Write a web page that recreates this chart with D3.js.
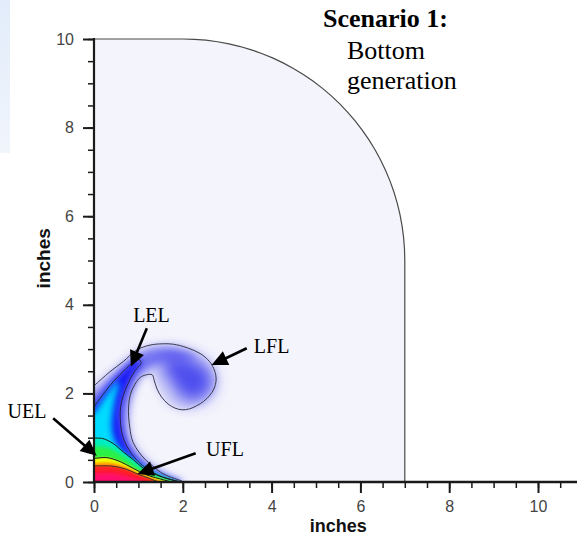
<!DOCTYPE html>
<html>
<head>
<meta charset="utf-8">
<script src="https://cdn.jsdelivr.net/npm/d3@7"></script>
<style>
  html, body { margin: 0; padding: 0; background: #fff; }
  svg { display: block; }
</style>
</head>
<body>
<svg id="chart" width="577" height="537"></svg>
<script>
// ---------- axis ticks (inches) ----------
const xMajorTicks = [0, 2, 4, 6, 8, 10];
const yMajorTicks = [0, 2, 4, 6, 8, 10];
const xMinorTicks = d3.range(0, 10.51, 0.5);
const yMinorTicks = d3.range(0, 10.01, 0.5);

// ---------- tank outline: flat top, rounded corner, side wall ----------
const tankTop = 10;
const tankWall = 7;
const cornerCenter = [2, 5];
const cornerRadius = 5;

// ---------- contour lines (inches), left wall -> floor ----------
const outerContour = [[0,2.17],[0.36,2.49],[0.66,2.72],[0.96,2.98],[1.26,3.09],[1.55,3.12],[1.79,3.11],
  [2.1,3.03],[2.39,2.9],[2.6,2.72],[2.72,2.5],[2.75,2.3],[2.7,2.1],[2.61,1.96],[2.47,1.82],[2.31,1.72],
  [2.15,1.65],[1.98,1.63],[1.82,1.67],[1.67,1.76],[1.52,1.92],[1.42,2.1],[1.36,2.28],[1.31,2.42],
  [1.18,2.42],[1.04,2.36],[0.92,2.2],[0.82,1.98],[0.78,1.72],[0.78,1.47],[0.81,1.2],[0.86,0.95],
  [0.98,0.72],[1.16,0.5],[1.35,0.34],[1.53,0.2],[1.75,0.1],[1.98,0.02],[2.0,0]];
const blueBandContour = [[0,1.70],[0.36,2.18],[0.66,2.5],[0.88,2.7],[1.02,2.76],[1.06,2.68],[0.93,2.52],
  [0.78,2.25],[0.67,1.98],[0.6,1.7],[0.59,1.45],[0.62,1.15],[0.71,0.87],[0.9,0.57],[1.16,0.32],
  [1.5,0.13],[1.85,0.02],[1.9,0]];
const greenContour = [[0,0.99],[0.2,0.98],[0.43,0.87],[0.66,0.68],[0.89,0.5],[1.11,0.31],[1.41,0.16],
  [1.71,0.06],[1.97,0]];
const yellowContour = [[0,0.53],[0.29,0.55],[0.59,0.46],[0.88,0.31],[1.19,0.16],[1.56,0.05],[1.75,0]];
const redContour = [[0,0.36],[0.4,0.36],[0.72,0.29],[0.98,0.18],[1.25,0.08],[1.45,0]];

// ---------- colour-flood regions (inches) ----------
const midBlueRegion = [[0,2.0],[0.4,2.4],[0.8,2.75],[1.2,2.97],[1.6,3.02],[2.0,2.95],[2.3,2.8],[2.0,2.72],
  [1.6,2.7],[1.3,2.6],[1.05,2.4],[0.9,2.1],[0.78,1.7],[0.74,1.3],[0.8,0.95],[0.95,0.68],[1.2,0.42],
  [1.55,0.2],[1.95,0]];
const headCore = [[1.6,2.85],[2.15,2.8],[2.55,2.58],[2.68,2.25],[2.55,1.95],[2.25,1.82],[1.95,1.92],
  [1.78,2.2],[1.55,2.55]];
const cyanRegion = [[0,1.55],[0.22,1.88],[0.4,2.12],[0.52,2.28],[0.55,2.15],[0.48,1.9],[0.42,1.55],
  [0.4,1.25],[0.45,0.98],[0.58,0.75],[0.8,0.52],[1.1,0.32],[1.45,0.14],[1.75,0.02],[1.8,0]];
const greenCore = [[0,0.8],[0.3,0.78],[0.55,0.66],[0.78,0.5],[1.0,0.34],[1.3,0.18],[1.6,0.06],[1.8,0]];
const orangeRegion = [[0,0.43],[0.35,0.44],[0.65,0.37],[0.9,0.25],[1.2,0.13],[1.5,0.03],[1.6,0]];
const magentaRegion = [[0,0.2],[0.45,0.2],[0.8,0.12],[1.05,0.04],[1.15,0]];

// ---------- annotations ----------
const annotLabels = ["LEL", "LFL", "UEL", "UFL"];
const annotText = [[1.295, 3.61], [4.0, 2.91], [-1.51, 1.44], [2.95, 0.59]];
const annotFrom = [[1.19, 3.47], [3.44, 3.02], [-0.92, 1.44], [2.29, 0.65]];
const annotTo = [[0.83, 2.6], [2.65, 2.64], [0.06, 0.59], [0.98, 0.18]];

const titleLines = ["Scenario 1:", "Bottom", "generation"];

// ---------- scales ----------
const svg = d3.select("#chart");
const W = 577, H = 537;
const x = d3.scaleLinear().domain([0, 10]).range([94, 538]);
const y = d3.scaleLinear().domain([0, 10]).range([482, 39]);

const defs = svg.append("defs");

// faint slide-background wash on the left edge
const wash = defs.append("linearGradient").attr("id", "wash").attr("x1", 0).attr("y1", 0).attr("x2", 0).attr("y2", 1);
wash.append("stop").attr("offset", "0%").attr("stop-color", "#e2ecfa");
wash.append("stop").attr("offset", "100%").attr("stop-color", "#f0f5fc");
svg.append("rect").attr("x", 0).attr("y", 0).attr("width", 10).attr("height", 153).attr("fill", "url(#wash)");

// blur filters
const blurLevels = [1, 2, 3, 4, 5, 8];
blurLevels.forEach(s => {
  defs.append("filter").attr("id", "blur" + s)
    .attr("filterUnits", "userSpaceOnUse")
    .attr("x", 0).attr("y", 0).attr("width", W).attr("height", H)
    .append("feGaussianBlur").attr("stdDeviation", s);
});

// tank clip
defs.append("clipPath").attr("id", "tankClip")
  .append("rect")
  .attr("x", x(0)).attr("y", y(tankTop))
  .attr("width", x(tankWall) - x(0)).attr("height", y(0) - y(tankTop));

// tank outline points
const arcPts = d3.range(90, -0.01, -3).map(a => {
  const r = a * Math.PI / 180;
  return [cornerCenter[0] + cornerRadius * Math.cos(r), cornerCenter[1] + cornerRadius * Math.sin(r)];
});
const outlinePts = [[0, tankTop], ...arcPts, [tankWall, 0]];
const straight = d3.line().x(d => x(d[0])).y(d => y(d[1]));

svg.append("path")
  .attr("d", straight([...outlinePts, [0, 0]]) + "Z")
  .attr("fill", "#f4f4fc");

// ---------- flood fill ----------
const smooth = d3.line().x(d => x(d[0])).y(d => y(d[1])).curve(d3.curveCatmullRom.alpha(0.5));
const smoothClosed = d3.line().x(d => x(d[0])).y(d => y(d[1])).curve(d3.curveCatmullRomClosed.alpha(0.5));

// region under a wall-to-floor curve, extended past the axes so blur stays solid at the edges
function wallRegion(pts) {
  const first = pts[0], last = pts[pts.length - 1];
  return smooth(pts) +
    "L" + x(last[0]) + "," + y(-0.6) +
    "L" + x(-0.6) + "," + y(-0.6) +
    "L" + x(-0.6) + "," + y(first[1]) + "Z";
}

const field = svg.append("g").attr("clip-path", "url(#tankClip)");
const layers = [
  { d: wallRegion(outerContour), fill: "#d0d0f7", blur: 5 },
  { d: wallRegion(midBlueRegion), fill: "#7272f2", blur: 4 },
  { d: smoothClosed(headCore), fill: "#4e4eef", blur: 8 },
  { d: wallRegion(blueBandContour), fill: "#1212f6", blur: 3 },
  { d: wallRegion(cyanRegion), fill: "#00dcff", blur: 3 },
  { d: wallRegion(greenContour), fill: "#00eec0", blur: 1 },
  { d: wallRegion(greenCore), fill: "#2cf044", blur: 2 },
  { d: wallRegion(yellowContour), fill: "#f4ff00", blur: 1 },
  { d: wallRegion(orangeRegion), fill: "#ffa000", blur: 1 },
  { d: wallRegion(redContour), fill: "#ff2424", blur: 1 },
  { d: wallRegion(magentaRegion), fill: "#ff0a6e", blur: 2 }
];
field.selectAll("path.layer").data(layers).join("path")
  .attr("class", "layer")
  .attr("d", d => d.d)
  .attr("fill", d => d.fill)
  .attr("filter", d => "url(#blur" + d.blur + ")");

// contour lines
const contourLines = [
  { pts: outerContour, stroke: "#3a3a4e", w: 1 },
  { pts: blueBandContour, stroke: "#20203a", w: 0.9 },
  { pts: greenContour, stroke: "#1a1a1a", w: 1 },
  { pts: yellowContour, stroke: "#1a1a1a", w: 1 },
  { pts: redContour, stroke: "#2a2a2a", w: 0.9 }
];
field.selectAll("path.contour").data(contourLines).join("path")
  .attr("class", "contour")
  .attr("d", d => smooth(d.pts))
  .attr("fill", "none")
  .attr("stroke", d => d.stroke)
  .attr("stroke-width", d => d.w);

// tank outline
svg.append("path")
  .attr("d", straight(outlinePts))
  .attr("fill", "none")
  .attr("stroke", "#4a4a4a")
  .attr("stroke-width", 1.2);

// ---------- axes ----------
const axisFont = "'Liberation Sans', Arial, sans-serif";
function styleAxis(g, tickW) {
  g.select(".domain").remove();
  g.selectAll(".tick line").attr("stroke", "#1a1a1a").attr("stroke-width", tickW);
  g.selectAll(".tick text").attr("fill", "#444").attr("font-size", 16).attr("font-family", axisFont);
}
const yAxisG = svg.append("g").attr("transform", `translate(${x(0)},0)`);
yAxisG.append("g").call(d3.axisLeft(y).tickValues(yMinorTicks).tickSize(6).tickFormat(""))
  .call(g => styleAxis(g, 1.5));
yAxisG.append("g").call(d3.axisLeft(y).tickValues(yMajorTicks).tickSize(11).tickPadding(9).tickFormat(d3.format("d")))
  .call(g => styleAxis(g, 2));

const xAxisG = svg.append("g").attr("transform", `translate(0,${y(0)})`);
xAxisG.append("g").call(d3.axisBottom(x).tickValues(xMinorTicks).tickSize(6).tickFormat(""))
  .call(g => styleAxis(g, 1.5));
xAxisG.append("g").call(d3.axisBottom(x).tickValues(xMajorTicks).tickSize(11).tickPadding(8).tickFormat(d3.format("d")))
  .call(g => styleAxis(g, 2));

// axis lines
svg.append("line").attr("x1", x(0)).attr("x2", x(0)).attr("y1", y(0) + 1).attr("y2", y(10) - 1)
  .attr("stroke", "#1a1a1a").attr("stroke-width", 2.2);
svg.append("line").attr("x1", x(0) - 1).attr("x2", W).attr("y1", y(0)).attr("y2", y(0))
  .attr("stroke", "#1a1a1a").attr("stroke-width", 2.5);

// axis titles
svg.append("text")
  .attr("x", x(5.5)).attr("y", y(0) + 50)
  .attr("text-anchor", "middle")
  .attr("font-family", axisFont).attr("font-weight", "bold").attr("font-size", 18)
  .attr("fill", "#111")
  .text("inches");
svg.append("text")
  .attr("transform", `translate(${x(0) - 44},${y(5.05)}) rotate(-90)`)
  .attr("text-anchor", "middle")
  .attr("font-family", axisFont).attr("font-weight", "bold").attr("font-size", 19)
  .attr("fill", "#111")
  .text("inches");

// ---------- annotation arrows ----------
const serif = "'Liberation Serif', 'Times New Roman', serif";
const annG = svg.append("g");
annotLabels.forEach((lab, i) => {
  const s = [x(annotFrom[i][0]), y(annotFrom[i][1])];
  const t = [x(annotTo[i][0]), y(annotTo[i][1])];
  const dx = t[0] - s[0], dy = t[1] - s[1];
  const len = Math.hypot(dx, dy);
  const ux = dx / len, uy = dy / len;
  const headL = 16, headW = 7.5;
  const bx = t[0] - ux * headL, by = t[1] - uy * headL;
  annG.append("line")
    .attr("x1", s[0]).attr("y1", s[1]).attr("x2", bx + ux * 2).attr("y2", by + uy * 2)
    .attr("stroke", "#000").attr("stroke-width", 2.6);
  annG.append("path")
    .attr("d", `M${t[0]},${t[1]}L${bx - uy * headW},${by + ux * headW}L${bx + uy * headW},${by - ux * headW}Z`)
    .attr("fill", "#000");
  annG.append("text")
    .attr("x", x(annotText[i][0])).attr("y", y(annotText[i][1]))
    .attr("text-anchor", "middle")
    .attr("font-family", serif).attr("font-size", 20)
    .attr("fill", "#000")
    .text(lab);
});

// ---------- scenario title ----------
svg.append("text").attr("x", 323).attr("y", 27)
  .attr("font-family", serif).attr("font-weight", "bold").attr("font-size", 26)
  .text(titleLines[0]);
svg.append("text").attr("x", 347).attr("y", 59)
  .attr("font-family", serif).attr("font-size", 26)
  .text(titleLines[1]);
svg.append("text").attr("x", 347).attr("y", 89)
  .attr("font-family", serif).attr("font-size", 26)
  .text(titleLines[2]);
</script>
</body>
</html>
